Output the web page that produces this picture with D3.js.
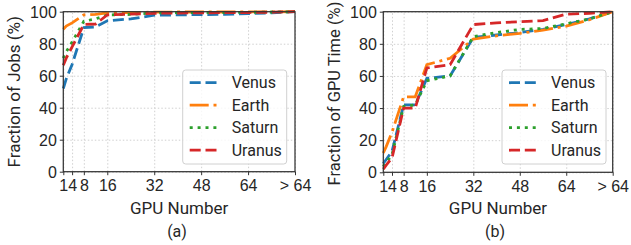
<!DOCTYPE html>
<html>
<head>
<meta charset="utf-8">
<script src="https://cdn.jsdelivr.net/npm/d3@7"></script>
<style>
  body { margin: 0; background: #fff; }
  svg { font-family: Roboto, "DejaVu Sans", sans-serif; }
  .grid line { stroke: #d0d0d0; stroke-dasharray: 1.5,2; }
  .grid path { display: none; }
  .axis path { display: none; }
  .axis line { stroke: #333; }
  .axis text { fill: #262626; font-size: 16px; }
  .label { fill: #262626; font-size: 17px; }
</style>
</head>
<body>
<script>
// GPU numbers (80 stands for "> 64")
const gpuSizes = [1, 2, 4, 8, 12, 16, 24, 32, 40, 48, 56, 64, 72, 80];
const clusters = ["Venus", "Earth", "Saturn", "Uranus"];
const xTicks = [1, 4, 8, 16, 32, 48, 64, 80];
const xTickLabels = ["1", "4", "8", "16", "32", "48", "64", "> 64"];
const yTicks = [0, 20, 40, 60, 80, 100];

// (a) fraction of jobs (%)
const jobsVenus  = [52, 58, 67, 90, 90.5, 94.3, 95.5, 97.8, 98, 98.2, 98.4, 98.8, 99.3, 100];
const jobsEarth  = [89, 91, 93, 98, 98.3, 99.3, 99.5, 99.7, 99.8, 99.8, 99.8, 99.9, 99.9, 100];
const jobsSaturn = [71, 75, 81, 94, 95.5, 98, 98.3, 99.3, 99.4, 99.5, 99.5, 99.6, 99.8, 100];
const jobsUranus = [66.5, 71, 78, 92, 92.3, 98, 98.5, 99, 99.2, 99.3, 99.4, 99.5, 99.7, 100];

// (b) fraction of GPU time (%)
const timeVenus  = [5.5, 8, 13, 42, 42, 58.5, 60, 84, 85.5, 87, 89, 92, 95.5, 100];
const timeEarth  = [12, 16, 25, 47, 47, 67, 71, 83, 85, 86.5, 88.5, 91, 95, 100];
const timeSaturn = [3.5, 6, 11, 41, 42, 57, 60, 84.5, 87, 89, 89.5, 92.5, 95.5, 100];
const timeUranus = [2, 4.5, 9, 40, 40, 65, 67, 92, 93, 93.8, 94.5, 98.5, 99, 100];

const colors = ["#1f77b4", "#ff7f0e", "#2ca02c", "#d62728"];
const dashes = ["11,4.8", "19,4.8,3,4.8", "3,4.9", "11,4.8"];
const lw = 2.8;

const svg = d3.select("body").append("svg")
    .attr("width", 631)
    .attr("height", 245);

function panel(opts) {
    const x = d3.scaleLinear().domain([1, 80]).range([opts.left, opts.right]);
    const y = d3.scaleLinear().domain([0, 100]).range([opts.bottom, opts.top]);
    const g = svg.append("g");

    g.append("g")
        .attr("class", "grid")
        .attr("transform", "translate(0," + opts.bottom + ")")
        .call(d3.axisBottom(x).tickValues(xTicks).tickSize(-(opts.bottom - opts.top)).tickFormat(""));
    g.append("g")
        .attr("class", "grid")
        .attr("transform", "translate(" + opts.left + ",0)")
        .call(d3.axisLeft(y).tickValues(yTicks).tickSize(-(opts.right - opts.left)).tickFormat(""));

    const line = d3.line()
        .x((d, i) => x(gpuSizes[i]))
        .y(d => y(d));

    opts.series.forEach((s, i) => {
        g.append("path")
            .datum(s)
            .attr("fill", "none")
            .attr("stroke", colors[i])
            .attr("stroke-width", lw)
            .attr("stroke-dasharray", dashes[i])
            .attr("d", line);
    });

    g.append("rect")
        .attr("x", opts.left)
        .attr("y", opts.top)
        .attr("width", opts.right - opts.left)
        .attr("height", opts.bottom - opts.top)
        .attr("fill", "none")
        .attr("stroke", "#333")
        .attr("stroke-width", 1.25);

    g.append("g")
        .attr("class", "axis")
        .attr("transform", "translate(0," + opts.bottom + ")")
        .call(d3.axisBottom(x).tickValues(xTicks).tickSize(3.5).tickPadding(3)
            .tickFormat((d, i) => xTickLabels[i]))
        .selectAll("text").attr("dy", "0.8em");
    g.append("g")
        .attr("class", "axis")
        .attr("transform", "translate(" + opts.left + ",0)")
        .call(d3.axisLeft(y).tickValues(yTicks).tickSize(3.5).tickPadding(3))
        .selectAll("text").attr("dy", "0.35em");

    const cx = (opts.left + opts.right) / 2;
    g.append("text")
        .attr("class", "label")
        .attr("x", cx)
        .attr("y", 214)
        .attr("text-anchor", "middle")
        .text("GPU Number");
    g.append("text")
        .attr("class", "label")
        .attr("transform", "translate(" + opts.ylabelX + "," + opts.ylabelY + ") rotate(-90)")
        .attr("text-anchor", "middle")
        .attr("dy", "0.35em")
        .style("font-size", opts.ylabelSize)
        .text(opts.ylabel);
    g.append("text")
        .attr("class", "label")
        .attr("x", opts.capX)
        .attr("y", 237)
        .attr("text-anchor", "middle")
        .style("font-size", "16px")
        .text(opts.caption);

    // legend
    const lg = g.append("g").attr("transform", "translate(" + opts.legX + ",70)");
    lg.append("rect")
        .attr("width", 104)
        .attr("height", 94)
        .attr("rx", 3)
        .attr("fill", "#fff")
        .attr("fill-opacity", 0.8)
        .attr("stroke", "#d0d0d0");
    clusters.forEach((c, i) => {
        const yy = 12.7 + i * 22.5;
        lg.append("line")
            .attr("x1", 7).attr("x2", 36)
            .attr("y1", yy).attr("y2", yy)
            .attr("stroke", colors[i])
            .attr("stroke-width", lw)
            .attr("stroke-dasharray", dashes[i]);
        lg.append("text")
            .attr("x", 49)
            .attr("y", yy)
            .attr("dy", "0.35em")
            .attr("fill", "#262626")
            .style("font-size", "16px")
            .text(c);
    });
}

panel({
    left: 63.3, right: 295, top: 11.7, bottom: 171.7,
    series: [jobsVenus, jobsEarth, jobsSaturn, jobsUranus],
    ylabel: "Fraction of Jobs (%)", ylabelX: 14, ylabelY: 91.7, ylabelSize: "17px",
    caption: "(a)", capX: 177, legX: 182.7
});
panel({
    left: 383.3, right: 612.7, top: 11.7, bottom: 172.3,
    series: [timeVenus, timeEarth, timeSaturn, timeUranus],
    ylabel: "Fraction of GPU Time (%)", ylabelX: 334, ylabelY: 93.5, ylabelSize: "16.5px",
    caption: "(b)", capX: 495, legX: 502
});
</script>
</body>
</html>
